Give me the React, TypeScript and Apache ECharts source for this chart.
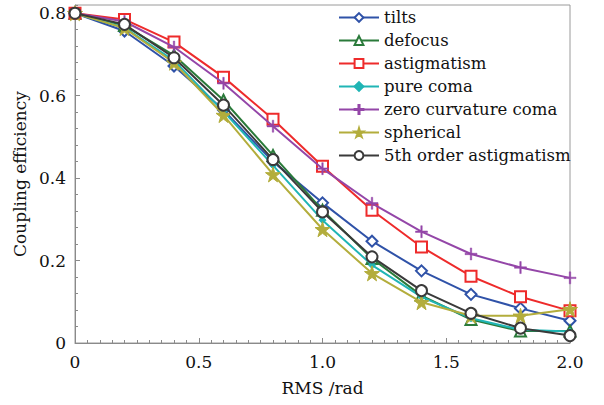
import React, { useEffect, useRef } from "react";
import * as echarts from "echarts";

const xValues = [0, 0.2, 0.4, 0.6, 0.8, 1.0, 1.2, 1.4, 1.6, 1.8, 2.0];

const tilts = [0.8, 0.757, 0.672, 0.565, 0.44, 0.34, 0.247, 0.175, 0.118, 0.084, 0.054];
const defocus = [0.8, 0.77, 0.698, 0.589, 0.455, 0.322, 0.205, 0.115, 0.057, 0.029, 0.029];
const astigmatism = [0.8, 0.785, 0.73, 0.645, 0.543, 0.429, 0.322, 0.233, 0.162, 0.112, 0.078];
const pureComa = [0.8, 0.765, 0.685, 0.562, 0.431, 0.298, 0.189, 0.112, 0.06, 0.032, 0.028];
const zeroCurvatureComa = [0.8, 0.78, 0.718, 0.63, 0.526, 0.423, 0.339, 0.27, 0.216, 0.183, 0.158];
const spherical = [0.8, 0.764, 0.68, 0.553, 0.409, 0.276, 0.169, 0.099, 0.066, 0.066, 0.082];
const fifthOrderAstig = [0.8, 0.773, 0.692, 0.577, 0.445, 0.318, 0.209, 0.127, 0.072, 0.036, 0.018];

const seriesNames = [
  "tilts",
  "defocus",
  "astigmatism",
  "pure coma",
  "zero curvature coma",
  "spherical",
  "5th order astigmatism",
];

const FONT = "DejaVu Serif";

const STAR = "path://M50,0 L61,35 L98,35 L68,57 L79,91 L50,70 L21,91 L32,57 L2,35 L39,35 Z";
const PLUS = "path://M4.4,0H5.6V4.4H10V5.6H5.6V10H4.4V5.6H0V4.4H4.4Z";

export default function App() {
  const ref = useRef<HTMLDivElement>(null);
  useEffect(() => {
    if (!ref.current) return;
    const chart = echarts.init(ref.current, null, { renderer: "svg" });
    const pair = (arr: number[]) => xValues.map((x, i) => [x, arr[i]]);
    const styles = [
      { data: tilts, color: "#2f52a8", symbol: "emptyDiamond", size: 11, bw: 2 },
      { data: defocus, color: "#2a7a3a", symbol: "emptyTriangle", size: 11, bw: 2 },
      { data: astigmatism, color: "#ee2b2b", symbol: "emptyRect", size: 11, bw: 2 },
      { data: pureComa, color: "#20b5b5", symbol: "diamond", size: 7, bw: 1 },
      { data: zeroCurvatureComa, color: "#9446a8", symbol: PLUS, size: 12, bw: 0.5 },
      { data: spherical, color: "#b3ad3c", symbol: STAR, size: 15, bw: 1 },
      { data: fifthOrderAstig, color: "#3a3a3a", symbol: "emptyCircle", size: 11, bw: 2 },
    ];
    chart.setOption({
      animation: false,
      backgroundColor: "#ffffff",
      textStyle: { fontFamily: FONT },
      grid: {
        left: 75,
        right: 34,
        top: 5,
        bottom: 62,
        show: true,
        borderColor: "#9a9a9a",
        borderWidth: 1,
      },
      legend: {
        orient: "vertical",
        left: 338,
        top: 9,
        padding: 0,
        itemWidth: 40,
        itemHeight: 11,
        itemGap: 6,
        data: seriesNames,
        textStyle: { fontFamily: FONT, fontSize: 16.5, color: "#111" },
      },
      xAxis: {
        type: "value",
        min: 0,
        max: 2,
        interval: 0.5,
        name: "RMS /rad",
        nameLocation: "middle",
        nameGap: 36,
        nameTextStyle: { fontFamily: FONT, fontSize: 17, color: "#111" },
        axisLine: { show: true, lineStyle: { color: "#8a8a8a", width: 1 } },
        axisTick: { show: true, inside: true, length: 5, lineStyle: { color: "#8a8a8a" } },
        minorTick: { show: true, splitNumber: 10, length: 3, lineStyle: { color: "#8a8a8a" } },
        splitLine: { show: false },
        axisLabel: {
          fontFamily: FONT,
          fontSize: 17,
          color: "#111",
          margin: 10,
          formatter: (v: number) => (v === 0 ? "0" : v.toFixed(1)),
        },
      },
      yAxis: [
        {
          type: "value",
          min: 0,
          max: 0.82,
          interval: 0.2,
          name: "Coupling efficiency",
          nameLocation: "middle",
          nameGap: 40,
          nameTextStyle: { fontFamily: FONT, fontSize: 17, color: "#111" },
          axisLine: { show: true, lineStyle: { color: "#8a8a8a", width: 1 } },
          axisTick: { show: true, inside: true, length: 5, lineStyle: { color: "#8a8a8a" } },
          splitLine: { show: false },
          axisLabel: {
            fontFamily: FONT,
            fontSize: 17,
            color: "#111",
            margin: 9,
            showMaxLabel: false,
            formatter: (v: number) => {
              const k = v * 5;
              if (Math.abs(k - Math.round(k)) > 1e-6) return "";
              return v === 0 ? "0" : v.toFixed(1);
            },
          },
        },
        {
          type: "value",
          min: 0,
          max: 0.82,
          interval: 0.04,
          position: "left",
          axisLine: { show: false },
          axisTick: { show: true, inside: true, length: 3, lineStyle: { color: "#8a8a8a" } },
          axisLabel: { show: false },
          splitLine: { show: false },
        },
      ],
      series: styles.map((s, i) => ({
        name: seriesNames[i],
        type: "line",
        yAxisIndex: 0,
        data: pair(s.data),
        symbol: s.symbol,
        symbolSize: s.size,
        showAllSymbol: true,
        color: s.color,
        lineStyle: { color: s.color, width: 2 },
        itemStyle: { color: s.color, borderColor: s.color, borderWidth: s.bw },
        z: 2 + i,
      })),
    });
    return () => chart.dispose();
  }, []);
  return (
    <div
      ref={ref}
      style={{ position: "fixed", left: 0, top: 0, width: 604, height: 405 }}
    />
  );
}
